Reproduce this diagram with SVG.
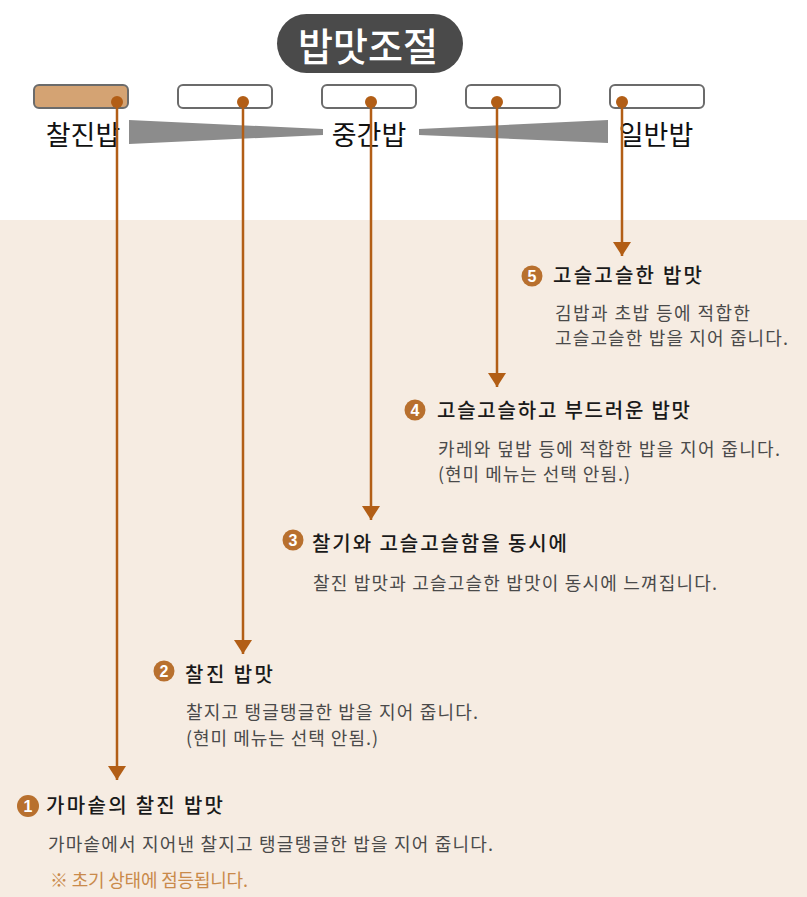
<svg xmlns="http://www.w3.org/2000/svg" width="807" height="897" viewBox="0 0 807 897">
<defs>
<style>
.k{font-family:"Noto Sans CJK KR","Noto Sans",sans-serif}
.btn{fill:#fff;stroke:#6b6b6b;stroke-width:2}
.lbl{font-size:27px;fill:#111;text-anchor:middle}
.ttl{font-size:20px;fill:#1a1a1a;font-weight:500}
.dsc{font-size:18px;fill:#4a4a4a}
.note{font-size:18px;fill:#C98A4B}
.badge{fill:#B8702E}
.num{font-family:"Liberation Sans",sans-serif;font-size:16px;fill:#fff;font-weight:bold;text-anchor:middle}
.ln{stroke:#B25E16;stroke-width:2.5;fill:none}
.dot{fill:#B25E16}
.wedge{fill:#8C8C8C}
</style>
<marker id="ah" viewBox="0 0 14 18" refX="14" refY="9" markerWidth="14" markerHeight="18" markerUnits="userSpaceOnUse" orient="auto">
<path d="M0,0 L14,9 L0,18 Z" fill="#B25E16"/>
</marker>
</defs>
<rect x="0" y="0" width="807" height="897" fill="#fff"/>
<rect x="0" y="220" width="807" height="677" fill="#F6ECE2"/>

<g id="title">
<rect x="277" y="14" width="186" height="59" rx="29.5" fill="#4A4A4A"/>
<text class="k" x="298" y="61" font-size="39" font-weight="500" fill="#fff" textLength="140" lengthAdjust="spacingAndGlyphs">밥맛조절</text>
</g>

<g id="scale">
<polygon class="wedge" points="129,120 323,129 323,135 129,144"/>
<polygon class="wedge" points="419,129 608,120 608,143 419,135"/>
<text class="k lbl" x="83" y="145">찰진밥</text>
<text class="k lbl" x="369" y="145">중간밥</text>
<text class="k lbl" x="656" y="145">일반밥</text>
</g>

<g id="btn1"><rect x="34" y="85" width="94" height="23" rx="5" fill="#D4A373" stroke="#6b6b6b" stroke-width="2"/></g>
<g id="btn2"><rect class="btn" x="178" y="85" width="94" height="23" rx="5"/></g>
<g id="btn3"><rect class="btn" x="322" y="85" width="94" height="23" rx="5"/></g>
<g id="btn4"><rect class="btn" x="466" y="85" width="94" height="23" rx="5"/></g>
<g id="btn5"><rect class="btn" x="610" y="85" width="94" height="23" rx="5"/></g>

<g id="connectors">
<line class="ln" x1="117" y1="102" x2="117" y2="780" marker-end="url(#ah)"/>
<line class="ln" x1="243" y1="102" x2="243" y2="654" marker-end="url(#ah)"/>
<line class="ln" x1="371" y1="102" x2="371" y2="520" marker-end="url(#ah)"/>
<line class="ln" x1="497" y1="102" x2="497" y2="387" marker-end="url(#ah)"/>
<line class="ln" x1="622" y1="102" x2="622" y2="256" marker-end="url(#ah)"/>
<circle class="dot" cx="117" cy="102" r="6"/>
<circle class="dot" cx="243" cy="102" r="6"/>
<circle class="dot" cx="371" cy="102" r="6"/>
<circle class="dot" cx="497" cy="102" r="6"/>
<circle class="dot" cx="622" cy="102" r="6"/>
</g>

<g id="item5">
<circle class="badge" cx="532" cy="276" r="10.5"/>
<text class="num" x="532" y="281.5">5</text>
<text class="k ttl" x="553" y="283" textLength="149" lengthAdjust="spacing">고슬고슬한 밥맛</text>
<text class="k dsc" x="555" y="320" textLength="195" lengthAdjust="spacing">김밥과 초밥 등에 적합한</text>
<text class="k dsc" x="555" y="345" textLength="233" lengthAdjust="spacing">고슬고슬한 밥을 지어 줍니다.</text>
</g>

<g id="item4">
<circle class="badge" cx="415" cy="410" r="10.5"/>
<text class="num" x="415" y="415.5">4</text>
<text class="k ttl" x="437" y="418" textLength="253" lengthAdjust="spacing">고슬고슬하고 부드러운 밥맛</text>
<text class="k dsc" x="438" y="456" textLength="342" lengthAdjust="spacing">카레와 덮밥 등에 적합한 밥을 지어 줍니다.</text>
<text class="k dsc" x="438" y="481" textLength="192" lengthAdjust="spacing">(현미 메뉴는 선택 안됨.)</text>
</g>

<g id="item3">
<circle class="badge" cx="293" cy="540" r="10.5"/>
<text class="num" x="293" y="545.5">3</text>
<text class="k ttl" x="312" y="551" textLength="255" lengthAdjust="spacing">찰기와 고슬고슬함을 동시에</text>
<text class="k dsc" x="313" y="590" textLength="404" lengthAdjust="spacing">찰진 밥맛과 고슬고슬한 밥맛이 동시에 느껴집니다.</text>
</g>

<g id="item2">
<circle class="badge" cx="164" cy="671" r="10.5"/>
<text class="num" x="164" y="676.5">2</text>
<text class="k ttl" x="185" y="682" textLength="88" lengthAdjust="spacing">찰진 밥맛</text>
<text class="k dsc" x="186" y="719" textLength="292" lengthAdjust="spacing">찰지고 탱글탱글한 밥을 지어 줍니다.</text>
<text class="k dsc" x="186" y="745" textLength="192" lengthAdjust="spacing">(현미 메뉴는 선택 안됨.)</text>
</g>

<g id="item1">
<circle class="badge" cx="28" cy="806" r="11"/>
<text class="num" x="28" y="811.5">1</text>
<text class="k ttl" x="46" y="813" textLength="177" lengthAdjust="spacing">가마솥의 찰진 밥맛</text>
<text class="k dsc" x="48" y="851" textLength="445" lengthAdjust="spacing">가마솥에서 지어낸 찰지고 탱글탱글한 밥을 지어 줍니다.</text>
<text class="k note" x="50" y="887" textLength="198" lengthAdjust="spacing">※ 초기 상태에 점등됩니다.</text>
</g>
</svg>
